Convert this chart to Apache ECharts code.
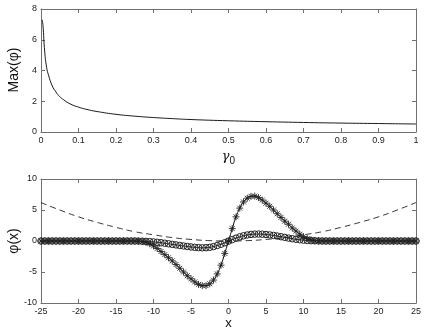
<!DOCTYPE html>
<html><head><meta charset="utf-8">
<script src="https://cdn.jsdelivr.net/npm/echarts@6/dist/echarts.min.js"></script>
<style>html,body{margin:0;padding:0;background:#fff}#c{width:425px;height:330px}</style>
</head><body><div id="c"></div>
<script>
// Top panel: Max(phi) vs gamma0
const gamma0 = [0.003,0.005,0.01,0.015,0.02,0.03,0.04,0.05,0.06,0.08,0.1,0.12,0.15,0.2,0.25,0.3,0.35,0.4,0.5,0.6,0.7,0.8,0.9,1.0];
const maxPhi = [7.3,7.0,5.2,4.2,3.7,3.0,2.6,2.3,2.1,1.8,1.62,1.48,1.33,1.15,1.03,0.94,0.87,0.81,0.73,0.67,0.62,0.58,0.55,0.52];

// Bottom panel: x grid -25..25 step 0.5
const xStart = -25, xStep = 0.5, nX = 101;
const phiStar = [
 0,0,0,0,0,0,0,0,0,0,0,0,0,0,0,0,0,0,0,0,0,0,0,0,0,
 -0.01,-0.04,-0.1,-0.22,-0.45,-0.8,-1.2,-1.7,-2.2,-2.7,-3.2,-3.8,-4.4,-5.0,-5.6,-6.1,-6.6,-7.0,-7.2,-7.2,-6.9,-6.3,-5.3,-3.9,-2.0,
 0,
 2.0,3.9,5.3,6.3,6.9,7.2,7.25,7.0,6.6,6.1,5.6,5.0,4.4,3.8,3.2,2.7,2.1,1.6,1.1,0.7,0.4,0.2,0.09,0.04,0.01,
 0,0,0,0,0,0,0,0,0,0,0,0,0,0,0,0,0,0,0,0,0,0,0,0,0
];
const phiCircle = [
 0,0,0,0,0,0,0,0,0,0,0,0,0,0,0,0,0,0,0,0,0,0,0,0,0,
 0,-0.01,-0.03,-0.06,-0.1,-0.15,-0.21,-0.28,-0.36,-0.45,-0.54,-0.63,-0.72,-0.8,-0.88,-0.96,-1.02,-1.07,-1.1,-1.08,-1.02,-0.9,-0.73,-0.52,-0.28,
 -0.03,
 0.22,0.46,0.67,0.84,0.97,1.06,1.11,1.12,1.1,1.05,0.98,0.9,0.8,0.69,0.58,0.47,0.37,0.28,0.2,0.14,0.09,0.05,0.03,0.01,0,
 0,0,0,0,0,0,0,0,0,0,0,0,0,0,0,0,0,0,0,0,0,0,0,0,0
];
const xPot = [-25,-22.5,-20,-17.5,-15,-12.5,-10,-7.5,-5,-2.5,0,2.5,5,7.5,10,12.5,15,17.5,20,22.5,25];
const vPot = [6.2,5.0,3.9,3.0,2.2,1.5,1.0,0.55,0.25,0.06,0,0.06,0.25,0.55,1.0,1.5,2.2,3.0,3.9,5.0,6.2];

const xGrid = [];
for (let i = 0; i < nX; i++) xGrid.push(xStart + i * xStep);
const zip = (a, b) => a.map((v, i) => [v, b[i]]);

const FONT = 'Liberation Sans';
const axisCol = '#707070';
const lbl = {fontFamily: FONT, fontSize: 9, color: '#222'};
function mainX(gi, min, max, interval, name, nameGap) {
  return {type:'value', gridIndex:gi, min, max, interval, position:'bottom',
    axisLine:{onZero:false, lineStyle:{color:axisCol, width:1}},
    axisTick:{inside:true, length:4, lineStyle:{color:axisCol}},
    axisLabel:Object.assign({margin:4}, lbl),
    splitLine:{show:false}, name, nameLocation:'middle', nameGap,
    nameTextStyle:{fontFamily:FONT, fontSize:13, color:'#111',
      rich:{g:{fontFamily:'DejaVu Serif', fontStyle:'italic', fontSize:13, color:'#111'},
            s:{fontFamily:FONT, fontSize:10, color:'#111', verticalAlign:'bottom', padding:[8,0,0,0]}}}};
}
function boxX(gi, min, max, interval) {
  return {type:'value', gridIndex:gi, min, max, interval, position:'top',
    axisLine:{onZero:false, lineStyle:{color:axisCol}},
    axisTick:{inside:true, length:4, lineStyle:{color:axisCol}},
    axisLabel:{show:false}, splitLine:{show:false}};
}
function mainY(gi, min, max, interval) {
  return {type:'value', gridIndex:gi, min, max, interval, position:'left',
    axisLine:{onZero:false, show:true, lineStyle:{color:axisCol}},
    axisTick:{show:true, inside:true, length:4, lineStyle:{color:axisCol}},
    axisLabel:Object.assign({margin:4}, lbl),
    splitLine:{show:false}};
}
function boxY(gi, min, max, interval) {
  return {type:'value', gridIndex:gi, min, max, interval, position:'right',
    axisLine:{onZero:false, show:true, lineStyle:{color:axisCol}},
    axisTick:{show:true, inside:true, length:4, lineStyle:{color:axisCol}},
    axisLabel:{show:false}, splitLine:{show:false}};
}
function yName(text, x, y) {
  return {type:'text', x, y, rotation:Math.PI/2,
    style:{text, fontFamily:FONT, fontSize:14, fill:'#111', align:'center', verticalAlign:'middle'}};
}

const starPath = 'path://M5,0L5,10M0,5L10,5M1.5,1.5L8.5,8.5M1.5,8.5L8.5,1.5';

const chart = echarts.init(document.getElementById('c'), null, {renderer:'canvas'});
chart.setOption({
  animation:false,
  backgroundColor:'#fff',
  grid:[
    {left:41, top:9, width:375, height:123, containLabel:false, outerBoundsMode:'none'},
    {left:41, top:179, width:375, height:124, containLabel:false, outerBoundsMode:'none'}
  ],
  graphic:[
    yName('Max(φ)', 14, 70),
    yName('φ(x)', 14, 241)
  ],
  xAxis:[
    mainX(0, 0, 1, 0.1, '{g|γ}{s|0}', 16),
    boxX(0, 0, 1, 0.1),
    mainX(1, -25, 25, 5, 'x', 13),
    boxX(1, -25, 25, 5)
  ],
  yAxis:[
    mainY(0, 0, 8, 2),
    boxY(0, 0, 8, 2),
    mainY(1, -10, 10, 5),
    boxY(1, -10, 10, 5)
  ],
  series:[
    {type:'line', xAxisIndex:0, yAxisIndex:0, data:zip(gamma0, maxPhi), smooth:true,
     showSymbol:false, lineStyle:{color:'#000', width:0.9}},
    {type:'line', xAxisIndex:2, yAxisIndex:2, data:zip(xPot, vPot), smooth:true,
     showSymbol:false, lineStyle:{color:'#000', width:0.8, type:[6,4]}},
    {type:'line', xAxisIndex:2, yAxisIndex:2, data:zip(xGrid, phiCircle), smooth:true,
     symbol:'circle', symbolSize:6.5, showAllSymbol:true,
     itemStyle:{color:'transparent', borderColor:'#222', borderWidth:1},
     lineStyle:{color:'#000', width:1}},
    {type:'line', xAxisIndex:2, yAxisIndex:2, data:zip(xGrid, phiStar), smooth:true,
     symbol:starPath, symbolSize:7, showAllSymbol:true,
     itemStyle:{color:'transparent', borderColor:'#222', borderWidth:0.9},
     lineStyle:{color:'#000', width:1}}
  ]
});
</script></body></html>
